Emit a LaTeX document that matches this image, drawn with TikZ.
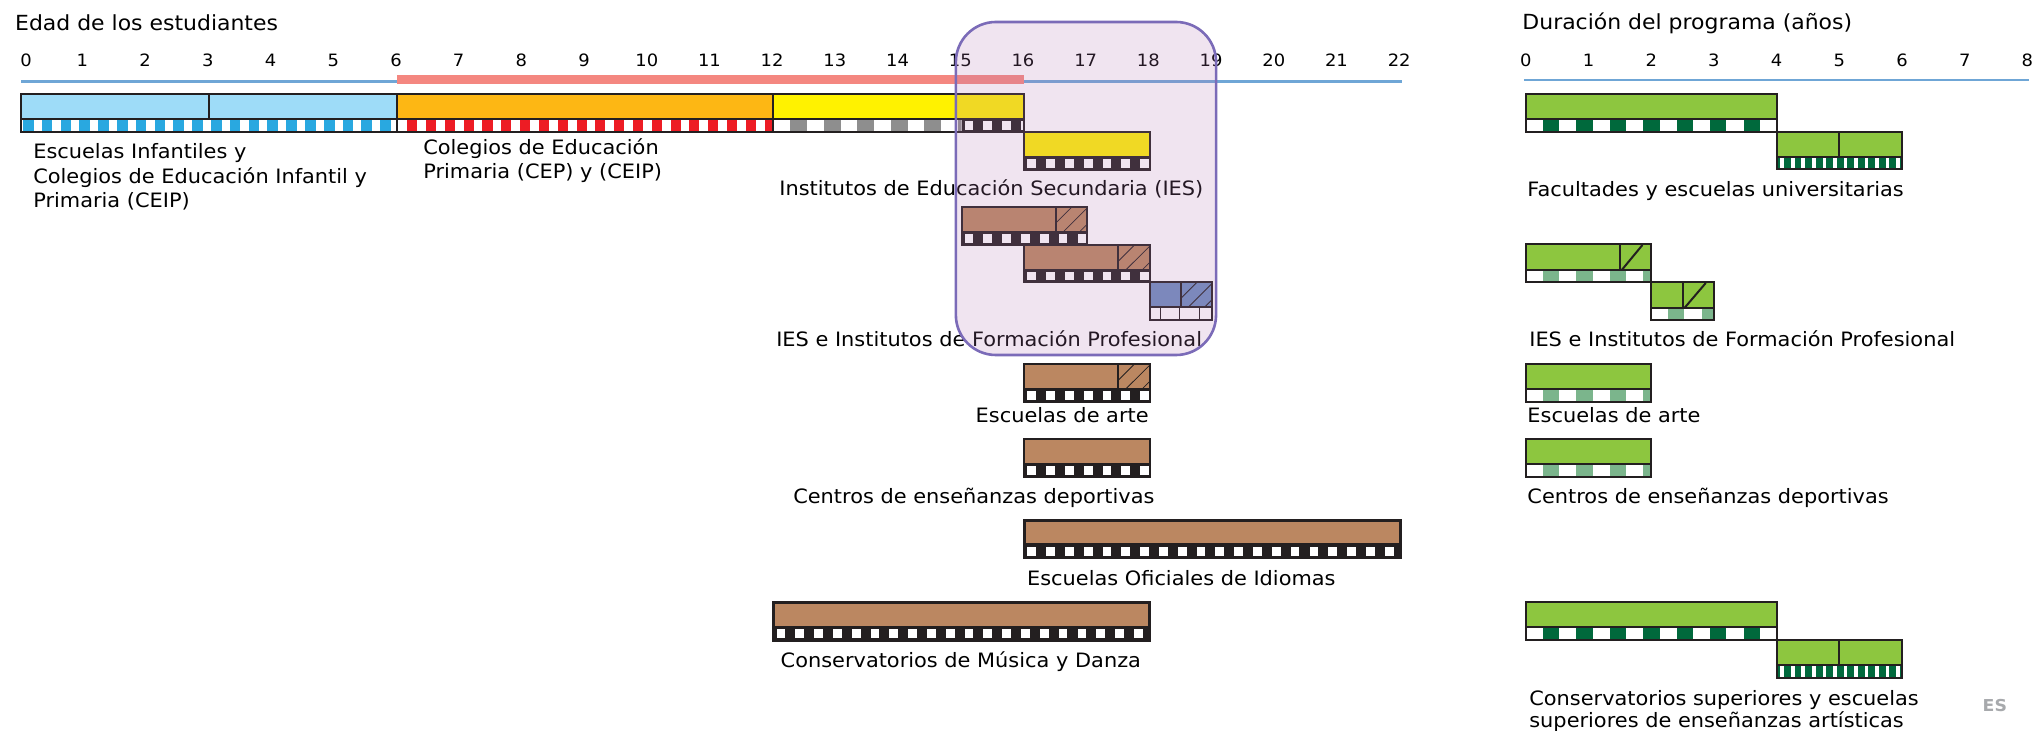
\documentclass[tikz,border=0pt]{standalone}
\usepackage{fontspec}
\setmainfont{DejaVu Sans}[FakeStretch=1.055]

\definecolor{axisblue}{RGB}{111,166,214}
\definecolor{agepink}{RGB}{244,135,128}
\definecolor{infblue}{RGB}{158,220,248}
\definecolor{infstrip}{RGB}{41,168,224}
\definecolor{priorange}{RGB}{253,183,20}
\definecolor{prired}{RGB}{237,28,36}
\definecolor{secyellow}{RGB}{255,242,0}
\definecolor{secgrey}{RGB}{142,142,142}
\definecolor{fpbrown}{RGB}{187,135,97}
\definecolor{fpblue}{RGB}{110,140,190}
\definecolor{unigreen}{RGB}{141,198,63}
\definecolor{unidark}{RGB}{0,105,60}
\definecolor{unimid}{RGB}{123,181,140}
\definecolor{framecol}{RGB}{35,31,32}
\definecolor{focusline}{RGB}{123,107,184}
\definecolor{focusfill}{RGB}{180,120,180}
\definecolor{markgrey}{RGB}{167,169,172}

% strip of cells: x0, x1, ytop, ybot, background, cell colour, offset, period, width
\newcommand{\cellrow}[9]{%
  \begin{scope}
    \clip (#1,#3) rectangle (#2,#4);
    \fill[#5] (#1,#3) rectangle (#2,#4);
    \pgfmathtruncatemacro\ncell{(#2-#1)/#8}
    \foreach \k in {0,...,\ncell}
      \fill[#6] ({#1+#7+\k*#8},#3) rectangle ++(#9,{#4-#3});
  \end{scope}}

% black film strip with white squares: x0, x1, ytop, ybot
\newcommand{\filmrow}[4]{%
  \begin{scope}
    \clip (#1,#3) rectangle (#2,#4);
    \fill[framecol] (#1,#3) rectangle (#2,#4);
    \pgfmathtruncatemacro\ncell{(#2-#1)/0.3}
    \foreach \k in {0,...,\ncell}
      \fill[white] ({#1+0.05+\k*0.3},{#3+2}) rectangle ++(0.14,{#4-#3-4});
  \end{scope}}

% diagonal hatching: x0, x1, ytop, ybot
\newcommand{\hatchcell}[4]{%
  \begin{scope}
    \clip (#1,#3) rectangle (#2,#4);
    \foreach \k in {0,...,4}
      \draw[framecol, line width=0.4pt] ({#1+\k*0.26-0.4},#4) -- ++(0.4,{#3-#4});
  \end{scope}}

% outline of a bar: [style] x0, x1, ytop, ymid, ybot
\newcommand{\barframe}[6][frame]{%
  \draw[#1] (#2,#4) rectangle (#3,#6);
  \draw[#1] (#2,#5) -- (#3,#5);}

\begin{document}
\begin{tikzpicture}[x=31.35pt, y=-0.5pt,
    frame/.style={draw=framecol, line width=1pt},
    heavyframe/.style={draw=framecol, line width=1.5pt},
    tick/.style={anchor=base, inner sep=0pt, font=\fontsize{8.5}{10}\selectfont},
    lbl/.style={anchor=base west, inner sep=0pt, align=left, font=\fontsize{9.9}{12.25}\selectfont},
    heading/.style={anchor=base west, inner sep=0pt, font=\fontsize{10.4}{12}\selectfont}
  ]
  \useasboundingbox (-0.335,0) rectangle (32.185,731);

  % age axis
  \node[heading] (agetitle) at (-0.1,30.5) {Edad de los estudiantes};
  \draw[axisblue, line width=1.2pt] (0,81.5) -- (22.03,81.5);
  \draw[agepink, line width=4.5pt] (6,79.5) -- (16,79.5);
  \node[tick] (age0) at (0.08,66.5) {0};
  \foreach \n in {1,...,22}
    \node[tick] (age\n) at (\n-0.02,66.5) {\n};

  % infantil, primaria, secundaria
  \fill[infblue] (0,94) rectangle (6,119);
  \cellrow{0}{6}{119}{132}{white}{infstrip}{0.03}{0.3}{0.17}
  \fill[priorange] (6,94) rectangle (12,119);
  \cellrow{6}{12}{119}{132}{white}{prired}{0.16}{0.3}{0.16}
  \fill[secyellow] (12,94) rectangle (16,119);
  \cellrow{12}{15}{119}{132}{white}{secgrey}{0.27}{0.534}{0.27}
  \filmrow{15}{16}{119}{132}
  \barframe{0}{6}{94}{119}{132}
  \draw[frame] (3,94) -- (3,119);
  \barframe{6}{12}{94}{119}{132}
  \barframe{12}{16}{94}{119}{132}

  \fill[secyellow] (16,132) rectangle (18,157);
  \filmrow{16}{18}{157}{170}
  \barframe{16}{18}{132}{157}{170}

  % formacion profesional
  \fill[fpbrown] (15,207) rectangle (17,232);
  \hatchcell{16.5}{17}{207}{232}
  \draw[frame] (16.5,207) -- (16.5,232);
  \filmrow{15}{17}{232}{245}
  \barframe{15}{17}{207}{232}{245}

  \fill[fpbrown] (16,245) rectangle (18,270);
  \hatchcell{17.5}{18}{245}{270}
  \draw[frame] (17.5,245) -- (17.5,270);
  \filmrow{16}{18}{270}{282}
  \barframe{16}{18}{245}{270}{282}

  \fill[fpblue] (18,282) rectangle (19,307);
  \hatchcell{18.5}{19}{282}{307}
  \draw[frame] (18.5,282) -- (18.5,307);
  \fill[white] (18,307) rectangle (19,320);
  \foreach \xs in {18.17,18.48,18.8}
    \draw[framecol, line width=0.6pt] (\xs,307) -- (\xs,320);
  \barframe{18}{19}{282}{307}{320}

  % arte, deportivas, idiomas, musica
  \fill[fpbrown] (16,364) rectangle (18,389);
  \hatchcell{17.5}{18}{364}{389}
  \draw[frame] (17.5,364) -- (17.5,389);
  \filmrow{16}{18}{389}{402}
  \barframe{16}{18}{364}{389}{402}

  \fill[fpbrown] (16,439) rectangle (18,464);
  \filmrow{16}{18}{464}{477}
  \barframe{16}{18}{439}{464}{477}

  \fill[fpbrown] (16,521) rectangle (22,545);
  \filmrow{16}{22}{545}{558}
  \barframe[heavyframe]{16}{22}{521}{545}{558}

  \fill[fpbrown] (12,602) rectangle (18,627);
  \filmrow{12}{18}{627}{640}
  \barframe[heavyframe]{12}{18}{602}{627}{640}

  % labels of the age chart (base = last line)
  \node[lbl] (infantil) at (0.19,208) {Escuelas Infantiles y\\Colegios de Educación Infantil y\\Primaria (CEIP)};
  \node[lbl] (primaria) at (6.41,179) {Colegios de Educación\\Primaria (CEP) y (CEIP)};
  \node[lbl] (ies) at (12.09,196) {Institutos de Educación Secundaria (IES)};
  \node[lbl] (fp) at (12.04,347) {IES e Institutos de Formación Profesional};
  \node[lbl] (arte) at (15.22,423) {Escuelas de arte};
  \node[lbl] (deporte) at (12.31,504) {Centros de enseñanzas deportivas};
  \node[lbl] (idiomas) at (16.04,586) {Escuelas Oficiales de Idiomas};
  \node[lbl] (musica) at (12.11,667) {Conservatorios de Música y Danza};

  % duration chart
  \begin{scope}[shift={(24,0)}]
    \node[heading] (durtitle) at (-0.06,30) {Duración del programa (años)};
    \draw[axisblue, line width=1.2pt] (-0.03,80) -- (8.03,80);
    \foreach \n in {0,...,8}
      \node[tick] (dur\n) at (\n,66.5) {\n};

    \fill[unigreen] (0,94) rectangle (4,119);
    \cellrow{0}{4}{119}{132}{white}{unidark}{0.27}{0.534}{0.26}
    \barframe{0}{4}{94}{119}{132}
    \fill[unigreen] (4,132) rectangle (6,157);
    \cellrow{4}{6}{157}{169}{unidark}{white}{0.06}{0.168}{0.06}
    \barframe{4}{6}{132}{157}{169}
    \draw[frame] (5,132) -- (5,157);

    \fill[unigreen] (0,244) rectangle (2,270);
    \cellrow{0}{2}{270}{282}{white}{unimid}{0.27}{0.534}{0.26}
    \barframe{0}{2}{244}{270}{282}
    \draw[frame] (1.5,244) -- (1.5,270);
    \draw[frame] (1.53,270) -- (1.86,245);
    \fill[unigreen] (2,282) rectangle (3,308);
    \cellrow{2}{3}{308}{320}{white}{unimid}{0.27}{0.534}{0.26}
    \barframe{2}{3}{282}{308}{320}
    \draw[frame] (2.5,282) -- (2.5,308);
    \draw[frame] (2.53,308) -- (2.87,283);

    \fill[unigreen] (0,364) rectangle (2,389);
    \cellrow{0}{2}{389}{402}{white}{unimid}{0.27}{0.534}{0.26}
    \barframe{0}{2}{364}{389}{402}

    \fill[unigreen] (0,439) rectangle (2,464);
    \cellrow{0}{2}{464}{477}{white}{unimid}{0.27}{0.534}{0.26}
    \barframe{0}{2}{439}{464}{477}

    \fill[unigreen] (0,602) rectangle (4,627);
    \cellrow{0}{4}{627}{640}{white}{unidark}{0.27}{0.534}{0.26}
    \barframe{0}{4}{602}{627}{640}
    \fill[unigreen] (4,640) rectangle (6,665);
    \cellrow{4}{6}{665}{678}{unidark}{white}{0.06}{0.168}{0.06}
    \barframe{4}{6}{640}{665}{678}
    \draw[frame] (5,640) -- (5,665);

    \node[lbl] (durfac) at (0.02,197) {Facultades y escuelas universitarias};
    \node[lbl] (durfp) at (0.05,347) {IES e Institutos de Formación Profesional};
    \node[lbl] (durarte) at (0.02,423) {Escuelas de arte};
    \node[lbl] (durdeporte) at (0.02,504) {Centros de enseñanzas deportivas};
    \node[lbl, font=\fontsize{9.9}{9.8}\selectfont] (dursup) at (0.05,727) {Conservatorios superiores y escuelas\\superiores de enseñanzas artísticas};
  \end{scope}

  \node[anchor=base, inner sep=0pt, text=markgrey, font=\fontsize{8.2}{10}\selectfont\bfseries] (eslabel) at (31.48,711) {ES};

  % highlighted ages
  \draw[focusline, line width=1.3pt, fill=focusfill, fill opacity=0.2, rounded corners=20pt] (14.91,22) rectangle (19.06,355);
\end{tikzpicture}
\end{document}
